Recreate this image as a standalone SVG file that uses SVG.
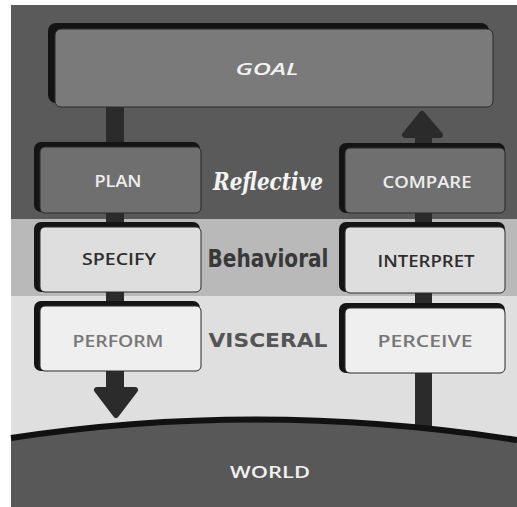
<svg xmlns="http://www.w3.org/2000/svg" width="517" height="507" viewBox="0 0 517 507">
<defs>
<style>
.sh{fill:#141414}
.lbl{font-family:"Open Sans","Liberation Sans",sans-serif;font-size:17px;font-weight:600;text-anchor:middle}
.bar{fill:#2b2b2b}
.head{fill:#2b2b2b;stroke:#2b2b2b;stroke-width:6;stroke-linejoin:round}
</style>
</defs>
<rect x="0" y="0" width="517" height="507" fill="#ffffff"/>
<rect x="11" y="5" width="506" height="214" fill="#5a5a5a"/>
<rect x="11" y="219" width="506" height="77" fill="#b9b9b9"/>
<rect x="11" y="296" width="506" height="150" fill="#dfdfdf"/>
<path d="M11 438 Q260 400 517 440 L517 507 L11 507 Z" fill="#585858"/>
<g id="connectors">
<rect class="bar" x="106" y="105" width="18" height="285"/>
<path class="head" d="M97 390 L135 390 L116 415 Z"/>
<rect class="bar" x="415" y="135" width="17" height="295"/>
<path class="head" d="M405 135 L440 135 L422 114 Z"/>
</g>
<path d="M11 438 Q260 400 517 440" fill="none" stroke="#111" stroke-width="6"/>
<g id="goal">
<rect class="sh" x="48" y="23" width="441" height="80" rx="8"/>
<rect x="55" y="29" width="438" height="78" rx="6" fill="#7a7a7a" stroke="#2a2a2a" stroke-width="1"/>
<text class="lbl" x="267" y="75" font-size="21" fill="#f2f2f2" font-style="italic" textLength="63" lengthAdjust="spacingAndGlyphs">GOAL</text>
</g>
<g id="plan">
<rect class="sh" x="34" y="142" width="166" height="70" rx="7"/>
<rect x="40" y="147" width="161" height="66" rx="5" fill="#6f6f6f" stroke="#2a2a2a" stroke-width="1"/>
<text class="lbl" x="118" y="187" fill="#eeeeee" textLength="47" lengthAdjust="spacingAndGlyphs">PLAN</text>
</g>
<g id="compare">
<rect class="sh" x="339" y="143" width="166" height="70" rx="7"/>
<rect x="345" y="148" width="160" height="65" rx="5" fill="#6f6f6f" stroke="#2a2a2a" stroke-width="1"/>
<text class="lbl" x="427" y="188" fill="#eeeeee" textLength="89" lengthAdjust="spacingAndGlyphs">COMPARE</text>
</g>
<g id="specify">
<rect class="sh" x="34" y="222" width="166" height="70" rx="7"/>
<rect x="40" y="227" width="161" height="65" rx="5" fill="#dedede" stroke="#2a2a2a" stroke-width="1"/>
<text class="lbl" x="119" y="265" fill="#2e2e2e" textLength="74" lengthAdjust="spacingAndGlyphs">SPECIFY</text>
</g>
<g id="interpret">
<rect class="sh" x="339" y="222" width="166" height="70" rx="7"/>
<rect x="345" y="227" width="160" height="66" rx="5" fill="#dedede" stroke="#2a2a2a" stroke-width="1"/>
<text class="lbl" x="426" y="267" fill="#2e2e2e" textLength="97" lengthAdjust="spacingAndGlyphs">INTERPRET</text>
</g>
<g id="perform">
<rect class="sh" x="34" y="301" width="166" height="70" rx="7"/>
<rect x="40" y="306" width="161" height="65" rx="5" fill="#efefef" stroke="#2a2a2a" stroke-width="1"/>
<text class="lbl" x="118" y="347" fill="#777777" textLength="91" lengthAdjust="spacingAndGlyphs">PERFORM</text>
</g>
<g id="perceive">
<rect class="sh" x="339" y="303" width="166" height="70" rx="7"/>
<rect x="345" y="308" width="160" height="65" rx="5" fill="#efefef" stroke="#2a2a2a" stroke-width="1"/>
<text class="lbl" x="425" y="347" fill="#777777" textLength="95" lengthAdjust="spacingAndGlyphs">PERCEIVE</text>
</g>
<g id="levels">
<text x="268" y="190" font-family="'DejaVu Serif','Liberation Serif',serif" font-style="italic" font-weight="bold" font-size="24" fill="#f4f4f4" text-anchor="middle" textLength="110" lengthAdjust="spacingAndGlyphs">Reflective</text>
<text x="268" y="267" font-family="'DejaVu Sans','Liberation Sans',sans-serif" font-weight="600" font-size="25" fill="#383838" text-anchor="middle" textLength="121" lengthAdjust="spacingAndGlyphs">Behavioral</text>
<text x="268" y="347" font-family="'DejaVu Sans','Liberation Sans',sans-serif" font-weight="bold" font-size="20" fill="#555555" text-anchor="middle" textLength="119" lengthAdjust="spacingAndGlyphs">VISCERAL</text>
</g>
<g id="world">
<text class="lbl" x="270" y="478" font-size="21" fill="#f2f2f2" textLength="80" lengthAdjust="spacingAndGlyphs">WORLD</text>
</g>
</svg>
